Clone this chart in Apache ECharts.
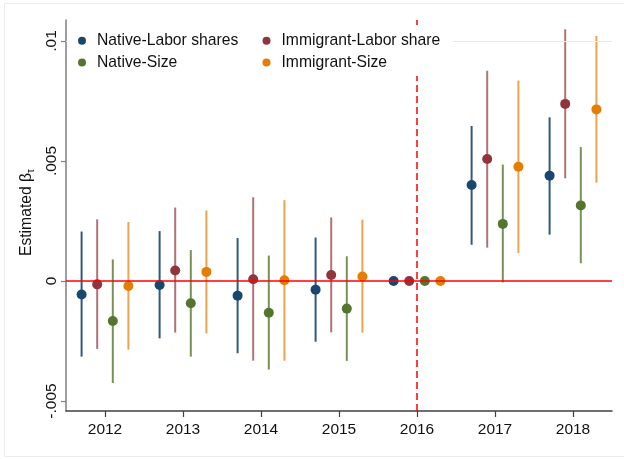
<!DOCTYPE html>
<html>
<head>
<meta charset="utf-8">
<script src="https://cdn.jsdelivr.net/npm/echarts@6/dist/echarts.min.js"></script>
<style>
html,body{margin:0;padding:0;background:#fff;}
#chart{width:624px;height:459px;}
</style>
</head>
<body>
<div id="chart"></div>
<script>
// ---- Data ----
const years = [2012, 2013, 2014, 2015, 2016, 2017, 2018];
const seriesNames = ['Native-Labor shares', 'Immigrant-Labor share', 'Native-Size', 'Immigrant-Size'];

const nativeLabor   = [-0.00056, -0.00017, -0.00061, -0.00036, 0, 0.00400, 0.00439];
const nativeLaborLo = [-0.00315, -0.00239, -0.00301, -0.00253, null, 0.00151, 0.00193];
const nativeLaborHi = [ 0.00206,  0.00208,  0.00179,  0.00181, null, 0.00646, 0.00682];

const immLabor   = [-0.00014, 0.00044, 0.00007, 0.00025, 0, 0.00508, 0.00738];
const immLaborLo = [-0.00283, -0.00215, -0.00332, -0.00214, null, 0.00139, 0.00428];
const immLaborHi = [ 0.00257,  0.00306,  0.00349,  0.00265, null, 0.00876, 0.01049];

const nativeSize   = [-0.00167, -0.00093, -0.00132, -0.00115, 0, 0.00238, 0.00315];
const nativeSizeLo = [-0.00425, -0.00315, -0.00369, -0.00333, null, -0.00006, 0.00074];
const nativeSizeHi = [ 0.00090,  0.00129,  0.00106,  0.00103, null, 0.00485, 0.00558];

const immSize   = [-0.00021, 0.00038, 0.00003, 0.00019, 0, 0.00476, 0.00715];
const immSizeLo = [-0.00286, -0.00218, -0.00332, -0.00215, null, 0.00117, 0.00410];
const immSizeHi = [ 0.00246,  0.00294,  0.00337,  0.00256, null, 0.00835, 0.01021];

const yTickValues = [-0.005, 0, 0.005, 0.01];
const yTickLabels = ['-.005', '0', '.005', '.01'];
const xTickLabels = ['2012', '2013', '2014', '2015', '2016', '2017', '2018'];
const referenceYear = 2016;

// ---- Styling ----
const colors = ['#1a476f', '#90353b', '#55752f', '#e37e00'];
const ciOpacity = [0.9, 0.7, 0.8, 0.7];
const offsets = [-0.3, -0.1, 0.1, 0.3];
const FONT = 'Liberation Sans, Arial, Helvetica, sans-serif';

const pointSets = [nativeLabor, immLabor, nativeSize, immSize];
const loSets = [nativeLaborLo, immLaborLo, nativeSizeLo, immSizeLo];
const hiSets = [nativeLaborHi, immLaborHi, nativeSizeHi, immSizeHi];

const series = [];

// reference lines / gridlines
series.push({
  type: 'scatter',
  name: '_ref',
  data: [],
  z: 1,
  silent: true,
  markLine: {
    silent: true,
    symbol: ['none', 'none'],
    animation: false,
    label: { show: false },
    data: [
      ...yTickValues.filter(v => v !== 0).map(v => ({ yAxis: v, lineStyle: { color: '#e3ebee', width: 1, type: 'solid' } })),
      { yAxis: 0, lineStyle: { color: '#ff0000', width: 1.5, type: 'solid' } },
      { xAxis: referenceYear, lineStyle: { color: '#ff0000', width: 1.5, type: [7, 4] } }
    ]
  }
});

seriesNames.forEach((name, k) => {
  const ciData = [];
  years.forEach((yr, i) => {
    if (loSets[k][i] !== null && hiSets[k][i] !== null) {
      ciData.push([yr + offsets[k], loSets[k][i], hiSets[k][i]]);
    }
  });
  series.push({
    type: 'custom',
    name: name + ' CI',
    z: 2,
    silent: true,
    data: ciData,
    encode: { x: 0, y: [1, 2] },
    renderItem: function (params, api) {
      const x = api.value(0);
      const p1 = api.coord([x, api.value(1)]);
      const p2 = api.coord([x, api.value(2)]);
      return {
        type: 'line',
        shape: { x1: p1[0], y1: p1[1], x2: p2[0], y2: p2[1] },
        style: { stroke: colors[k], lineWidth: 2, opacity: ciOpacity[k] }
      };
    }
  });
});

seriesNames.forEach((name, k) => {
  series.push({
    type: 'scatter',
    name: name,
    z: 3,
    symbol: 'circle',
    symbolSize: 10,
    itemStyle: { color: colors[k], opacity: 1 },
    data: years.map((yr, i) => [yr + offsets[k], pointSets[k][i]])
  });
});

const legendCommon = {
  orient: 'vertical',
  padding: 0,
  z: 120,
  itemWidth: 8,
  itemHeight: 8,
  itemGap: 3.7,
  icon: 'circle',
  selectedMode: false,
  textStyle: { fontFamily: FONT, fontSize: 15.7, color: '#111', lineHeight: 18, padding: [0, 0, 0, 6] }
};

const option = {
  animation: false,
  backgroundColor: '#fff',
  color: colors,
  grid: { left: 66, right: 12, top: 20, bottom: 48 },
  xAxis: {
    type: 'value',
    min: 2011.5,
    max: 2018.5,
    axisLine: { show: true, onZero: false, lineStyle: { color: '#404040', width: 1.5 } },
    axisTick: { show: true, length: 6, customValues: years, lineStyle: { color: '#404040', width: 1.2 } },
    axisLabel: {
      customValues: years,
      margin: 11,
      fontFamily: FONT, fontSize: 15.5, color: '#111',
      formatter: v => { const i = years.indexOf(Math.round(v)); return i >= 0 ? xTickLabels[i] : ''; }
    },
    splitLine: { show: false }
  },
  yAxis: {
    type: 'value',
    min: -0.0054167,
    max: 0.010875,
    name: '{m|Estimated β}{s|τ}',
    nameLocation: 'middle',
    nameGap: 25,
    nameRotate: 90,
    nameTextStyle: {
      padding: [0, 0, 0, 6],
      rich: {
        m: { fontFamily: FONT, fontSize: 15.7, color: '#111', lineHeight: 18 },
        s: { fontFamily: FONT, fontSize: 10, color: '#111', verticalAlign: 'bottom', lineHeight: 18, padding: [6, 0, 0, 0] }
      }
    },
    axisLine: { show: true, onZero: false, lineStyle: { color: '#7f7f7f', width: 1.5 } },
    axisTick: { show: true, length: 5, customValues: yTickValues, lineStyle: { color: '#7f7f7f', width: 1.2 } },
    axisLabel: {
      customValues: yTickValues,
      rotate: 90,
      margin: 6,
      fontFamily: FONT, fontSize: 15.5, color: '#111',
      formatter: v => {
        for (let i = 0; i < yTickValues.length; i++) {
          if (Math.abs(v - yTickValues[i]) < 1e-9) return yTickLabels[i];
        }
        return '';
      }
    },
    splitLine: { show: false }
  },
  legend: [
    Object.assign({}, legendCommon, { left: 78, top: 31.7, data: [seriesNames[0], seriesNames[2]] }),
    Object.assign({}, legendCommon, { left: 262.5, top: 31.7, data: [seriesNames[1], seriesNames[3]] })
  ],
  graphic: [
    { type: 'rect', z: 100, silent: true, shape: { x: 67, y: 25, width: 386, height: 51 }, style: { fill: '#fff' } },
    { type: 'rect', z: 0, silent: true, shape: { x: 4.5, y: 3.5, width: 630, height: 453 }, style: { fill: 'none', stroke: '#ececec', lineWidth: 1 } }
  ],
  series: series
};

const chart = echarts.init(document.getElementById('chart'), null, { renderer: 'canvas' });
chart.setOption(option);
</script>
</body>
</html>
